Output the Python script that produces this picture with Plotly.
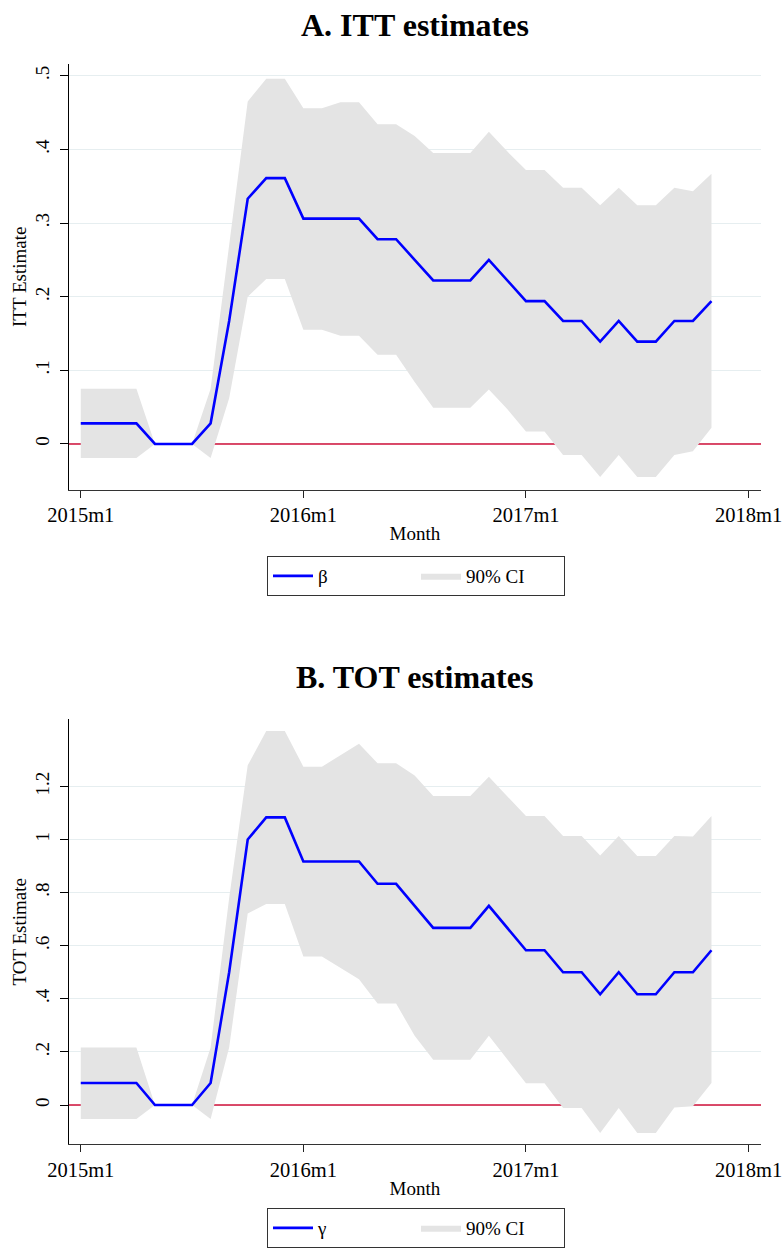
import plotly.graph_objects as go

# Stata monthly codes (%tm): 660 = 2015m1 ... 694 = 2017m11
month_codes = [660, 661, 662, 663, 664, 665, 666, 667, 668, 669, 670, 671,
               672, 673, 674, 675, 676, 677, 678, 679, 680, 681, 682, 683,
               684, 685, 686, 687, 688, 689, 690, 691, 692, 693, 694]
tick_codes = [660, 672, 684, 696]
tick_labels = ["2015m1", "2016m1", "2017m1", "2018m1"]

itt = [0.028, 0.028, 0.028, 0.028, 0, 0, 0, 0.028, 0.167, 0.333, 0.361, 0.361,
       0.306, 0.306, 0.306, 0.306, 0.278, 0.278, 0.25, 0.222, 0.222, 0.222, 0.25, 0.222,
       0.194, 0.194, 0.167, 0.167, 0.139, 0.167, 0.139, 0.139, 0.167, 0.167, 0.194]
itt_hi = [0.075, 0.075, 0.075, 0.075, 0, 0, 0, 0.075, 0.272, 0.465, 0.496, 0.496,
          0.456, 0.456, 0.464, 0.464, 0.434, 0.434, 0.418, 0.395, 0.395, 0.395, 0.424, 0.397,
          0.372, 0.372, 0.348, 0.348, 0.324, 0.348, 0.324, 0.324, 0.348, 0.343, 0.367]
itt_lo = [-0.019, -0.019, -0.019, -0.019, 0, 0, 0, -0.019, 0.062, 0.2, 0.224, 0.224,
          0.155, 0.155, 0.147, 0.147, 0.121, 0.121, 0.084, 0.049, 0.049, 0.049, 0.074, 0.047,
          0.017, 0.017, -0.015, -0.015, -0.045, -0.015, -0.045, -0.045, -0.015, -0.01, 0.022]

tot = [0.083, 0.083, 0.083, 0.083, 0, 0, 0, 0.083, 0.5, 1.0, 1.083, 1.083,
       0.917, 0.917, 0.917, 0.917, 0.833, 0.833, 0.75, 0.667, 0.667, 0.667, 0.75, 0.667,
       0.583, 0.583, 0.5, 0.5, 0.417, 0.5, 0.417, 0.417, 0.5, 0.5, 0.583]
tot_hi = [0.217, 0.217, 0.217, 0.217, 0, 0, 0, 0.217, 0.78, 1.279, 1.408, 1.408,
          1.274, 1.274, 1.317, 1.36, 1.287, 1.287, 1.241, 1.164, 1.164, 1.164, 1.236, 1.164,
          1.088, 1.088, 1.013, 1.013, 0.94, 1.013, 0.938, 0.938, 1.013, 1.011, 1.088]
tot_lo = [-0.053, -0.053, -0.053, -0.053, 0, 0, 0, -0.053, 0.217, 0.721, 0.757, 0.757,
          0.559, 0.559, 0.518, 0.474, 0.382, 0.382, 0.261, 0.171, 0.171, 0.171, 0.261, 0.17,
          0.082, 0.082, -0.011, -0.011, -0.105, -0.011, -0.105, -0.105, -0.009, -0.005, 0.083]

itt_ticks = [0, 0.1, 0.2, 0.3, 0.4, 0.5]
itt_ticktext = ["0", ".1", ".2", ".3", ".4", ".5"]
tot_ticks = [0, 0.2, 0.4, 0.6, 0.8, 1.0, 1.2]
tot_ticktext = ["0", ".2", ".4", ".6", ".8", "1", "1.2"]

# x-axis range (Stata month codes) and the y = 0 reference line
xrange = [659.35, 696.67]
zero_ref = [0, 0]

FONT = "Liberation Serif, Times New Roman, serif"
BLUE = "#0000ff"
FILL = "#e4e4e4"
GRID = "#e6eef0"
ZERO = "#d0103a"
W, H = 783, 1248

fig = go.Figure()


def add_panel(est, lo, hi, name, xa, ya, legend):
    fig.add_trace(go.Scatter(x=xrange, y=zero_ref, mode="lines", line=dict(width=1.4, color=ZERO),
                             showlegend=False, hoverinfo="skip", xaxis=xa, yaxis=ya))
    fig.add_trace(go.Scatter(x=month_codes, y=lo, mode="lines", line=dict(width=0, color=FILL),
                             showlegend=False, hoverinfo="skip", xaxis=xa, yaxis=ya, legend=legend))
    fig.add_trace(go.Scatter(x=month_codes, y=hi, mode="lines", line=dict(width=0, color=FILL),
                             fill="tonexty", fillcolor=FILL, name="90% CI", legendrank=2,
                             xaxis=xa, yaxis=ya, legend=legend))
    fig.add_trace(go.Scatter(x=month_codes, y=est, mode="lines", line=dict(width=2.6, color=BLUE),
                             name=name, legendrank=1, xaxis=xa, yaxis=ya, legend=legend))


add_panel(itt, itt_lo, itt_hi, "β", "x", "y", "legend")
add_panel(tot, tot_lo, tot_hi, "γ", "x2", "y2", "legend2")

xdom = [68.7 / W, 761 / W]
domA = [1 - 490 / H, 1 - 64 / H]
domB = [1 - 1145 / H, 1 - 720 / H]

xcommon = dict(range=xrange, tickvals=tick_codes, ticktext=tick_labels, ticks="outside",
               ticklen=7, tickwidth=1.2, tickcolor="#222", showline=True, linecolor="#333",
               linewidth=1.3, showgrid=False, zeroline=False, automargin=False,
               tickfont=dict(family=FONT, size=20.5, color="#000"),
               title=dict(text="Month", font=dict(family=FONT, size=19, color="#000"), standoff=1))
ycommon = dict(ticks="outside", ticklen=8, tickwidth=1.2, tickcolor="#000", showline=True,
               linecolor="#000", linewidth=1.3, showgrid=True, gridcolor=GRID, gridwidth=1,
               zeroline=False, tickangle=-90, automargin=False, ticklabelstandoff=3,
               tickfont=dict(family=FONT, size=19, color="#000"))

legcommon = dict(orientation="h", x=267 / W, xanchor="left", yanchor="top",
                 bordercolor="#333", borderwidth=1, bgcolor="white",
                 font=dict(family=FONT, size=19, color="#000"),
                 entrywidth=93, itemwidth=40, traceorder="normal")

fig.update_layout(
    width=W, height=H,
    margin=dict(l=0, r=0, t=0, b=0),
    paper_bgcolor="white", plot_bgcolor="white",
    font=dict(family=FONT, color="#000"),
    xaxis=dict(domain=xdom, anchor="y", **xcommon),
    yaxis=dict(domain=domA, anchor="x", range=[-0.062, 0.516], tickvals=itt_ticks,
               ticktext=itt_ticktext,
               title=dict(text="ITT Estimate", font=dict(family=FONT, size=19, color="#000"),
                          standoff=0), **ycommon),
    xaxis2=dict(domain=xdom, anchor="y2", **xcommon),
    yaxis2=dict(domain=domB, anchor="x2", range=[-0.147, 1.452], tickvals=tot_ticks,
                ticktext=tot_ticktext,
                title=dict(text="TOT Estimate", font=dict(family=FONT, size=19, color="#000"),
                           standoff=0), **ycommon),
    legend=dict(y=1 - 556 / H, **legcommon),
    legend2=dict(y=1 - 1209 / H, **legcommon),
    annotations=[
        dict(text="<b>A. ITT estimates</b>", x=0.5 * (xdom[0] + xdom[1]), y=1 - 25 / H,
             xref="paper", yref="paper", showarrow=False, xanchor="center", yanchor="middle",
             font=dict(family=FONT, size=32, color="#000")),
        dict(text="<b>B. TOT estimates</b>", x=0.5 * (xdom[0] + xdom[1]), y=1 - 678 / H,
             xref="paper", yref="paper", showarrow=False, xanchor="center", yanchor="middle",
             font=dict(family=FONT, size=32, color="#000")),
    ],
)

fig.write_html("out.html")
